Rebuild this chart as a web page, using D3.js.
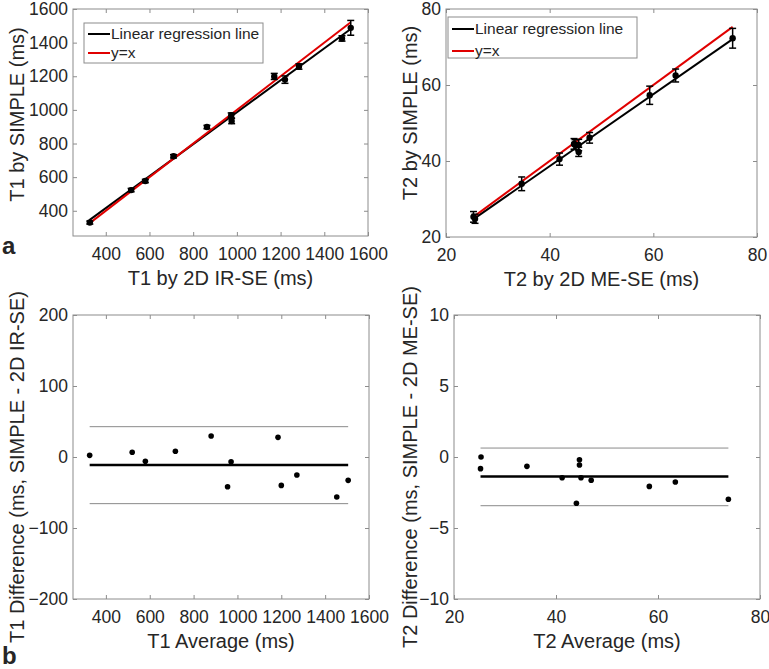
<!DOCTYPE html>
<html>
<head>
<meta charset="utf-8">
<script src="https://cdn.jsdelivr.net/npm/d3@7"></script>
<style>
  html, body { margin: 0; padding: 0; background: #fff; }
  svg { display: block; }
  text { font-family: "Liberation Sans", Arial, sans-serif; fill: #262626; }
</style>
</head>
<body>
<svg id="chart" width="769" height="669"></svg>
<script>
// ---------- Data ----------
// Panel a (left): T1 scatter
const t1Ref   = [327, 516, 581, 710, 863, 976, 974, 1171, 1220, 1284, 1481, 1521];
const t1Simple= [330, 523, 577, 724, 898, 934, 968, 1199, 1180, 1258, 1425, 1488];
const t1Err   = [9, 10, 10, 10, 10, 16, 14, 18, 22, 16, 16, 44];
const t1Reg   = { slope: 0.95, intercept: 36, x0: 325, x1: 1521 };
// Panel a (right): T2 scatter
const t2Ref   = [25.3, 25.6, 34.6, 41.9, 45.6, 44.7, 44.9, 45.6, 47.7, 59.3, 64.3, 75.3];
const t2Simple= [25.3, 24.8, 34.0, 40.5, 42.4, 44.5, 44.3, 44.2, 46.1, 57.3, 62.5, 72.3];
const t2Err   = [1.4, 1.2, 1.8, 1.6, 1.2, 1.4, 1.3, 1.5, 1.4, 2.4, 1.7, 2.6];
const t2Reg   = { slope: 0.947, intercept: 0.75, x0: 25.3, x1: 75.3 };
// Panel b: Bland-Altman
const t1Avg   = [326, 520, 580, 717, 880, 955, 971, 1185, 1200, 1271, 1453, 1505];
const t1Diff  = [2.3, 6.6, -6.1, 8.0, 29.6, -41.8, -6.6, 27.7, -40.0, -25.4, -56.3, -32.9];
const t1Stats = { mean: -11.3, upper: 42.7, lower: -65.7, x0: 326, x1: 1505 };
const t2Avg   = [25.3, 25.2, 34.3, 41.2, 44.0, 44.6, 44.6, 44.9, 46.9, 58.3, 63.4, 73.8];
const t2Diff  = [0.0, -0.82, -0.66, -1.46, -3.26, -0.19, -0.56, -1.46, -1.64, -2.07, -1.76, -2.98];
const t2Stats = { mean: -1.38, upper: 0.63, lower: -3.43, x0: 25.2, x1: 73.8 };

const t1Ticks = [400, 600, 800, 1000, 1200, 1400, 1600];
const t1YTicks = [400, 600, 800, 1000, 1200, 1400, 1600];
const t2Ticks = [20, 40, 60, 80];
const d1Ticks = [-200, -100, 0, 100, 200];
const d2Ticks = [-10, -5, 0, 5, 10];

const svg = d3.select("#chart");
const AX = "#8c8c8c";
const FS = 17.5;   // tick labels
const TS = 20;     // axis titles
const fmt = d3.format("d");

function panel(o) {
  const g = svg.append("g");
  const x = d3.scaleLinear().domain(o.xd).range([o.x0, o.x1]);
  const y = d3.scaleLinear().domain(o.yd).range([o.y1, o.y0]);
  const tl = 4;
  const bx = g.append("g").attr("transform", `translate(0,${o.y1})`)
    .call(d3.axisBottom(x).tickValues(o.xt).tickFormat(fmt).tickSizeInner(-tl).tickSizeOuter(0).tickPadding(12));
  const tx = g.append("g").attr("transform", `translate(0,${o.y0})`)
    .call(d3.axisTop(x).tickValues(o.xt).tickSizeInner(-tl).tickSizeOuter(0).tickFormat(""));
  const ly = g.append("g").attr("transform", `translate(${o.x0},0)`)
    .call(d3.axisLeft(y).tickValues(o.yt).tickFormat(fmt).tickSizeInner(-tl).tickSizeOuter(0).tickPadding(5));
  const ry = g.append("g").attr("transform", `translate(${o.x1},0)`)
    .call(d3.axisRight(y).tickValues(o.yt).tickSizeInner(-tl).tickSizeOuter(0).tickFormat(""));
  [bx, tx, ly, ry].forEach(a => {
    a.select(".domain").remove();
    a.selectAll(".tick line").attr("stroke", AX);
    a.selectAll("text").attr("font-size", FS).attr("fill", "#262626")
      .attr("font-family", '"Liberation Sans", Arial, sans-serif');
  });
  g.append("rect").attr("x", o.x0).attr("y", o.y0)
    .attr("width", o.x1 - o.x0).attr("height", o.y1 - o.y0)
    .attr("fill", "none").attr("stroke", AX).attr("stroke-width", 1);
  g.append("text").attr("x", (o.x0 + o.x1) / 2).attr("y", o.y1 + 49)
    .attr("text-anchor", "middle").attr("font-size", TS).text(o.xl);
  g.append("text").attr("transform", `translate(${o.ylx},${(o.y0 + o.y1) / 2 + o.ydy}) rotate(-90)`)
    .attr("text-anchor", "middle").attr("dy", "0.35em").attr("font-size", TS).text(o.yl);
  return { g, x, y };
}

function scatter(p, xs, ys, es, reg, legend) {
  const { g, x, y } = p;
  const rx0 = reg.x0, rx1 = reg.x1;
  g.append("line").attr("x1", x(rx0)).attr("y1", y(reg.slope * rx0 + reg.intercept))
    .attr("x2", x(rx1)).attr("y2", y(reg.slope * rx1 + reg.intercept))
    .attr("stroke", "#000").attr("stroke-width", 2);
  g.append("line").attr("x1", x(rx0)).attr("y1", y(rx0))
    .attr("x2", x(rx1)).attr("y2", y(rx1))
    .attr("stroke", "#e00000").attr("stroke-width", 2);
  xs.forEach((xv, i) => {
    const cx = x(xv), top = y(ys[i] + es[i]), bot = y(ys[i] - es[i]);
    g.append("line").attr("x1", cx).attr("x2", cx).attr("y1", top).attr("y2", bot)
      .attr("stroke", "#000").attr("stroke-width", 1.5);
    [top, bot].forEach(v => g.append("line").attr("x1", cx - 3.5).attr("x2", cx + 3.5)
      .attr("y1", v).attr("y2", v).attr("stroke", "#000").attr("stroke-width", 1.5));
    g.append("circle").attr("cx", cx).attr("cy", y(ys[i])).attr("r", 3.2).attr("fill", "#000");
  });
  const L = legend;
  g.append("rect").attr("x", L.x).attr("y", L.y).attr("width", L.w).attr("height", L.h)
    .attr("fill", "#fff").attr("stroke", "#8c8c8c").attr("stroke-width", 1);
  const items = [["Linear regression line", "#000"], ["y=x", "#e00000"]];
  items.forEach((it, i) => {
    const yy = L.y + L.r0 + i * L.dr;
    g.append("line").attr("x1", L.x + 4).attr("x2", L.x + 26).attr("y1", yy).attr("y2", yy)
      .attr("stroke", it[1]).attr("stroke-width", 2);
    g.append("text").attr("x", L.x + 27).attr("y", yy).attr("dy", "0.35em")
      .attr("font-size", 15.5).attr("fill", "#000").text(it[0]);
  });
}

function bland(p, xs, ds, st) {
  const { g, x, y } = p;
  ["upper", "lower"].forEach(k => {
    g.append("line").attr("x1", x(st.x0)).attr("x2", x(st.x1))
      .attr("y1", y(st[k])).attr("y2", y(st[k]))
      .attr("stroke", "#8a8a8a").attr("stroke-width", 1);
  });
  g.append("line").attr("x1", x(st.x0)).attr("x2", x(st.x1))
    .attr("y1", y(st.mean)).attr("y2", y(st.mean))
    .attr("stroke", "#000").attr("stroke-width", 2.5);
  xs.forEach((xv, i) => {
    g.append("circle").attr("cx", x(xv)).attr("cy", y(ds[i])).attr("r", 2.8).attr("fill", "#000");
  });
}

const pA1 = panel({ x0: 73, x1: 368, y0: 9, y1: 236, xd: [250, 1600], yd: [250, 1600],
  xt: t1Ticks, yt: t1YTicks, xl: "T1 by 2D IR-SE (ms)", yl: "T1 by SIMPLE (ms)", ylx: 17, ydy: -8 });
scatter(pA1, t1Ref, t1Simple, t1Err, t1Reg, { x: 84, y: 23, w: 179, h: 40, r0: 11, dr: 19 });

const pA2 = panel({ x0: 446, x1: 757, y0: 9, y1: 237, xd: [20, 80], yd: [20, 80],
  xt: t2Ticks, yt: t2Ticks, xl: "T2 by 2D ME-SE (ms)", yl: "T2 by SIMPLE (ms)", ylx: 410, ydy: -10 });
scatter(pA2, t2Ref, t2Simple, t2Err, t2Reg, { x: 448, y: 17, w: 189, h: 41, r0: 12, dr: 22 });

const pB1 = panel({ x0: 73, x1: 369, y0: 315, y1: 599, xd: [250, 1600], yd: [-200, 200],
  xt: t1Ticks, yt: d1Ticks, xl: "T1 Average (ms)", yl: "T1 Difference (ms, SIMPLE - 2D IR-SE)", ylx: 17, ydy: 10 });
bland(pB1, t1Avg, t1Diff, t1Stats);

const pB2 = panel({ x0: 454, x1: 760, y0: 315, y1: 599, xd: [20, 80], yd: [-10, 10],
  xt: t2Ticks, yt: d2Ticks, xl: "T2 Average (ms)", yl: "T2 Difference (ms, SIMPLE - 2D ME-SE)", ylx: 410, ydy: 10 });
bland(pB2, t2Avg, t2Diff, t2Stats);

svg.append("text").attr("x", 2).attr("y", 254).attr("font-size", 24).attr("font-weight", "bold")
  .attr("font-family", '"Open Sans", "DejaVu Sans", sans-serif').attr("fill", "#000").text("a");
svg.append("text").attr("x", 2).attr("y", 664).attr("font-size", 24).attr("font-weight", "bold")
  .attr("font-family", '"Open Sans", "DejaVu Sans", sans-serif').attr("fill", "#000").text("b");
</script>
</body>
</html>
